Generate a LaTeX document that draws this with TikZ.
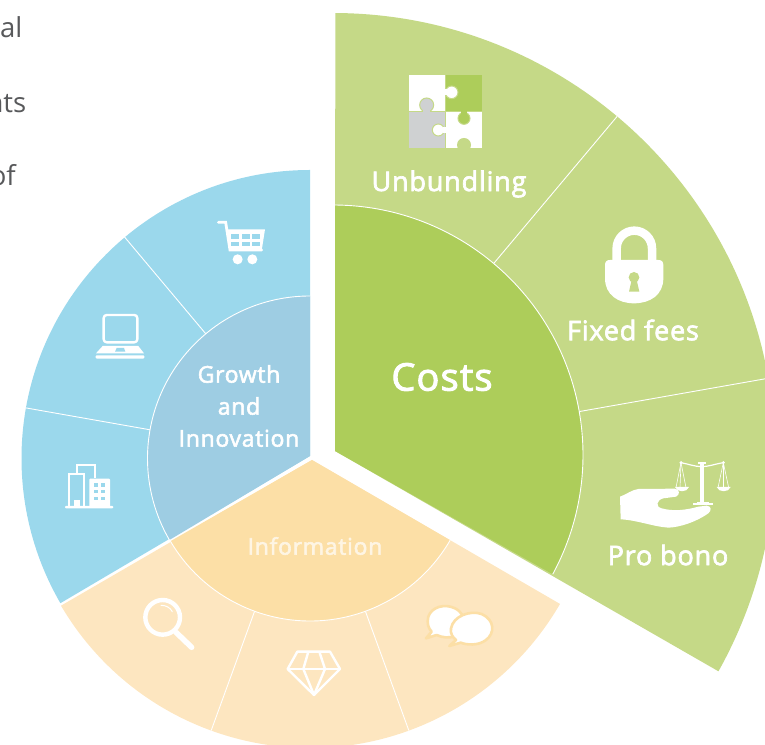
\documentclass[tikz,border=0pt]{standalone}
\usepackage{fontspec}
\setmainfont{Open Sans}
\newfontfamily\labelfont[LetterSpace=3,FakeBold=2.5]{Open Sans}
\usetikzlibrary{positioning, calc}
\definecolor{costsout}{HTML}{C5D987}
\definecolor{costsin}{HTML}{ADCD5A}
\definecolor{growthout}{HTML}{9BD8EC}
\definecolor{growthin}{HTML}{9ECDE3}
\definecolor{infoout}{HTML}{FDE6C0}
\definecolor{infoin}{HTML}{FCDFA6}
\definecolor{puzzlegray}{HTML}{CFD1D2}
\definecolor{bodygray}{HTML}{58595B}

\begin{document}
\begin{tikzpicture}[
        x=1pt, y=1pt,
        sepline/.style={draw=white, line width=0.9pt},
        rimline/.style={draw=white, line width=0.9pt},
        bodytext/.style={anchor=base east, inner sep=0pt, text=bodygray, font=\fontsize{27.5}{27.5}\selectfont},
        bigtext/.style={text=white, inner sep=0pt, font=\labelfont\fontsize{27}{27}\selectfont},
        smalltext/.style={text=white, inner sep=0pt, align=center, font=\labelfont\fontsize{23}{32}\selectfont},
        iconarea/.style 2 args={shift={(#1,{744-#2})}, xscale=1/3, yscale=-1/3},
        iconline/.style={draw=white, line width=2.4pt, line join=round},
        piece/.style={draw=costsout, line width=1pt}
    ]
        \useasboundingbox (0,0) rectangle (765,744);
        \clip (0,0) rectangle (765,744);

        \node [bodytext] (bodyone) at (22.5,706) {al};
        \node [bodytext] (bodytwo) at (26.5,631) {nts};
        \node [bodytext] (bodythree) at (16,558) {of};

        \coordinate (costsc) at (333,289);
        \coordinate (growthc) at (310,286);
        \coordinate (infoc) at (310,285);

        % costs
        \fill [costsout] (335,293) -- ([shift={(89.7:442)}]costsc) arc [start angle=89.7, end angle=-29.3, radius=442] -- cycle;
        \foreach \a in {50,10}
            \draw [sepline] ([shift={(\a:250)}]costsc) -- ([shift={(\a:442)}]costsc);
        \fill [costsin] (335,293) -- ([shift={(89.5:250)}]costsc) arc [start angle=89.5, end angle=-28.5, radius=250] -- cycle;
        \draw [rimline] ([shift={(89.5:250)}]costsc) arc [start angle=89.5, end angle=-28.5, radius=250];

        % growth
        \fill [growthout] (310,288) -- (310,574) arc [start angle=90, end angle=210.1, radius=288.5] -- cycle;
        \foreach \a in {130,170}
            \draw [sepline] ([shift={(\a:162)}]growthc) -- ([shift={(\a:288.5)}]growthc);
        \fill [growthin] (310,288) -- (310,448) arc [start angle=90, end angle=210.1, radius=162.5] -- cycle;
        \draw [rimline] (310,448) arc [start angle=90, end angle=210.1, radius=162.5];

        % information
        \fill [infoout] (312,284) -- ([shift={(210.5:289)}]infoc) arc [start angle=210.5, end angle=329.9, radius=289] -- cycle;
        \foreach \a in {250,290}
            \draw [sepline] ([shift={(\a:162)}]infoc) -- ([shift={(\a:289)}]infoc);
        \fill [infoin] (312,284) -- ([shift={(210.5:162)}]infoc) arc [start angle=210.5, end angle=329.9, radius=162] -- cycle;
        \draw [rimline] ([shift={(210.5:162)}]infoc) arc [start angle=210.5, end angle=329.9, radius=162];

        \node [text=white, inner sep=0pt, font=\labelfont\fontsize{38}{38}\selectfont] (costs) at (442,367) {Costs};
        \node [bigtext] (unbundling) at (449,560) {Unbundling};
        \node [bigtext] (fixedfees) at (633,414) {Fixed fees};
        \node [bigtext] (probono) at (668,189) {Pro bono};
        \node [smalltext] (growth) at (239,338) {Growth\\and\\Innovation};
        \node [smalltext, text=white!70!infoin] (information) at (315,198) {Information};

        % puzzle
        \begin{scope}[iconarea={340}{50}]
            \draw [piece, fill=white] (205,75) rectangle (316,186);
            \draw [piece, fill=costsin] (316,75) rectangle (427,186);
            \draw [piece, fill=puzzlegray] (205,186) rectangle (316,297);
            \draw [piece, fill=white] (316,186) rectangle (427,297);
            \draw [piece, fill=white] (335,127) circle [radius=19];
            \fill [white] (310,118) rectangle (322,136);
            \draw [piece, fill=puzzlegray] (260,165) circle [radius=21];
            \fill [puzzlegray] (250,178) rectangle (270,192);
            \draw [piece, fill=costsin] (372,205) circle [radius=18];
            \fill [costsin] (363,180) rectangle (381,194);
            \draw [piece, fill=white] (295,240) circle [radius=18];
            \fill [white] (308,231) rectangle (322,249);
            \fill [costsout] (372,285) circle [radius=21];
            \fill [costsout] (362,285) rectangle (382,299);
        \end{scope}

        % lock
        \begin{scope}[iconarea={560}{210}]
            \draw [white, line width=8.5pt] (170,165) -- (170,115) arc [start angle=180, end angle=360, radius=53] -- (276,165);
            \fill [white] (135,165) .. controls (135,155) and (140,150) .. (150,150) -- (295,150) .. controls (305,150) and (310,155) .. (310,165) -- (310,205) .. controls (310,255) and (270,280) .. (222,280) .. controls (175,280) and (135,255) .. (135,205) -- cycle;
            \fill [costsout] (222,202) circle [radius=16];
            \fill [costsout] (215,210) -- (230,210) -- (238,245) -- (207,245) -- cycle;
        \end{scope}

        % hand and scales
        \begin{scope}[iconarea={600}{440}]
            \fill [white] (60,170) .. controls (85,160) and (95,150) .. (115,147) -- (225,146) .. controls (240,148) and (240,165) .. (228,170) -- (190,175) .. controls (170,180) and (165,200) .. (185,205) .. controls (220,215) and (260,210) .. (295,200) -- (320,197) .. controls (335,198) and (335,212) .. (325,220) .. controls (290,245) and (240,262) .. (205,263) .. controls (160,260) and (110,240) .. (62,238) -- cycle;
            \fill [white] (300,70) rectangle (311,188);
            \fill [white] (295,65) rectangle (318,72);
            \fill [white] (290,186) rectangle (326,190);
            \fill [white] (278,190) rectangle (338,195);
            \draw [white, line width=1.2pt] (243,68) .. controls (265,72) and (285,80) .. (305,80) .. controls (325,80) and (345,72) .. (370,68);
            \fill [white] (243,68) circle [radius=5];
            \fill [white] (370,68) circle [radius=5];
            \draw [white, line width=0.6pt] (228,143) -- (243,68) -- (258,143);
            \draw [white, line width=0.6pt] (240,143) -- (243,68);
            \draw [white, line width=0.6pt] (354,143) -- (370,68) -- (386,143);
            \draw [white, line width=0.6pt] (370,143) -- (370,68);
            \fill [white] (225,141) .. controls (230,158) and (262,158) .. (267,141) -- cycle;
            \fill [white] (350,141) .. controls (355,158) and (387,158) .. (392,141) -- cycle;
        \end{scope}

        % cart
        \begin{scope}[iconarea={0}{0}]
            \draw [white, line width=2.8pt, line cap=round] (655,667) -- (677,667) -- (690,750) -- (785,750);
            \fill [white] (682,688) -- (795,688) -- (785,752) -- (692,752) -- cycle;
            \foreach \x/\w in {693/25,725/25,757/24}
                \foreach \y in {702,725}
                    \fill [growthout] (\x,\y) rectangle ++(\w,14);
            \fill [white] (713,778) circle [radius=15];
            \fill [white] (757,778) circle [radius=15];
        \end{scope}

        % laptop
        \begin{scope}[iconarea={40}{300}]
            \draw [iconline] (200,45) -- (283,45) arc [start angle=-90, end angle=0, radius=9] -- (292,118) arc [start angle=0, end angle=90, radius=9] -- (200,127) arc [start angle=90, end angle=180, radius=9] -- (191,54) arc [start angle=180, end angle=270, radius=9] -- cycle;
            \fill [white] (188,138) -- (295,138) -- (312,160) -- (168,160) -- cycle;
            \fill [growthout] (230,144) -- (252,144) -- (256,155) -- (225,155) -- cycle;
            \fill [white, rounded corners=1pt] (167,166) rectangle (313,176);
        \end{scope}

        % buildings
        \begin{scope}[iconarea={40}{300}]
            \draw [white, line width=2.2pt] (88,620) -- (88,523) -- (133,523) -- (133,620);
            \draw [white, line width=2.2pt] (110,520) -- (110,496) -- (166,496) -- (166,535);
            \fill [white] (103,600) rectangle (120,620);
            \fill [white, rounded corners=1pt] (148,536) rectangle (210,622);
            \foreach \x in {163,184}
                \foreach \y in {550,570,590}
                    \fill [growthout] (\x,\y) rectangle ++(10,10);
            \fill [white, rounded corners=1pt] (75,618) rectangle (220,625);
        \end{scope}

        % magnifier
        \begin{scope}[iconarea={120}{590}]
            \draw [white, line width=4.4pt] (128,82) circle [radius=52];
            \draw [white, line width=5.5pt, line cap=round] (168,127) -- (215,172);
            \draw [white, line width=1pt, line cap=round] (123,46) .. controls (138,46) and (150,52) .. (157,65);
        \end{scope}

        % diamond
        \begin{scope}[iconarea={120}{590}]
            \draw [iconline] (532,185) -- (630,185) -- (660,237) -- (582,315) -- (503,237) -- cycle;
            \draw [iconline] (503,237) -- (660,237);
            \draw [iconline] (565,185) -- (550,237) -- (582,315) -- (615,237) -- (598,185);
        \end{scope}

        % speech bubbles
        \begin{scope}[iconarea={120}{590}]
            \draw [fill=white, draw=infoin, line width=2.6pt, line join=round] (935,125) -- (918,145) -- (950,135) .. controls (965,143) and (990,145) .. (1005,138) .. controls (1040,125) and (1045,75) .. (1005,55) .. controls (975,40) and (935,50) .. (925,80) .. controls (920,100) and (925,115) .. (935,125) -- cycle;
            \draw [fill=white, draw=infoin, line width=2.6pt, line join=round] (1008,150) -- (988,168) -- (1022,158) .. controls (1040,165) and (1075,168) .. (1098,150) .. controls (1125,130) and (1125,90) .. (1085,72) .. controls (1050,60) and (1000,78) .. (993,115) .. controls (990,130) and (998,142) .. (1008,150) -- cycle;
        \end{scope}
    \end{tikzpicture}
\end{document}
